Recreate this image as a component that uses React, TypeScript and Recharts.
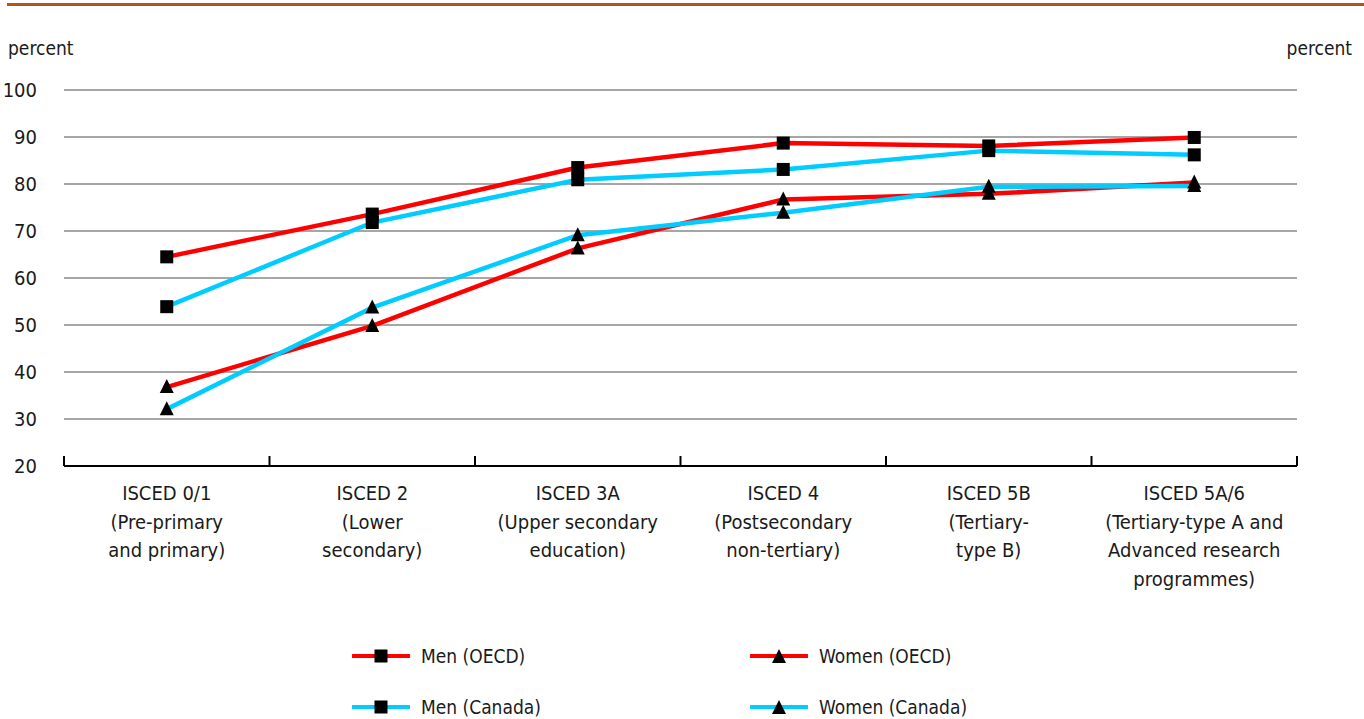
import React from "react";
import {
  LineChart,
  Line,
  XAxis,
  YAxis,
  CartesianGrid,
} from "recharts";

const categories = ["ISCED 0/1", "ISCED 2", "ISCED 3A", "ISCED 4", "ISCED 5B", "ISCED 5A/6"];
const categoryLabels = [
  ["ISCED 0/1", "(Pre-primary", "and primary)"],
  ["ISCED 2", "(Lower", "secondary)"],
  ["ISCED 3A", "(Upper secondary", "education)"],
  ["ISCED 4", "(Postsecondary", "non-tertiary)"],
  ["ISCED 5B", "(Tertiary-", "type B)"],
  ["ISCED 5A/6", "(Tertiary-type A and", "Advanced research", "programmes)"],
];
const menOecd = [64.5, 73.6, 83.5, 88.7, 88.1, 89.9];
const womenOecd = [36.8, 49.8, 66.3, 76.7, 77.9, 80.3];
const menCanada = [53.9, 71.8, 80.9, 83.1, 87.1, 86.2];
const womenCanada = [32.1, 53.7, 69.1, 73.9, 79.4, 79.6];
const yTicks = [20, 30, 40, 50, 60, 70, 80, 90, 100];

const series = [
  { key: "menOecd", name: "Men (OECD)", color: "#FF0000", marker: "square" },
  { key: "womenOecd", name: "Women (OECD)", color: "#FF0000", marker: "triangle" },
  { key: "menCanada", name: "Men (Canada)", color: "#00CCFF", marker: "square" },
  { key: "womenCanada", name: "Women (Canada)", color: "#00CCFF", marker: "triangle" },
];

const data = categories.map((name, i) => ({
  name,
  menOecd: menOecd[i],
  womenOecd: womenOecd[i],
  menCanada: menCanada[i],
  womenCanada: womenCanada[i],
}));

const FONT = "'Liberation Sans Narrow', 'DejaVu Sans Condensed', 'Arial Narrow', sans-serif";
const TEXT = "#1a1a1a";

function Square(props: any) {
  const { cx, cy } = props;
  if (cx == null || cy == null) return null;
  return <rect x={cx - 6.5} y={cy - 6.5} width={13} height={13} fill="#000" />;
}

function Triangle(props: any) {
  const { cx, cy } = props;
  if (cx == null || cy == null) return null;
  return <path d={`M${cx},${cy - 8} L${cx + 7},${cy + 6} L${cx - 7},${cy + 6} Z`} fill="#000" />;
}

function CategoryTick(props: any) {
  const { x, y, payload, index, width, visibleTicksCount } = props;
  const half =
    payload && payload.offset ? payload.offset : width / (visibleTicksCount || 6) / 2;
  const lines = categoryLabels[index] || [String(payload.value)];
  return (
    <g>
      <line x1={x - half} x2={x - half} y1={y - 10} y2={y} stroke="#000" strokeWidth={2} />
      {index === visibleTicksCount - 1 && (
        <line x1={x + half} x2={x + half} y1={y - 10} y2={y} stroke="#000" strokeWidth={2} />
      )}
      <text x={x} y={y + 34} textAnchor="middle" fill={TEXT} fontSize={20} fontFamily={FONT}>
        {lines.map((l, i) => (
          <tspan key={i} x={x} dy={i === 0 ? 0 : 28.5}>
            {l}
          </tspan>
        ))}
      </text>
    </g>
  );
}

function RightTick(props: any) {
  const { x, y, payload } = props;
  return (
    <text x={x + 55} y={y} dy={7} textAnchor="end" fill={TEXT} fontSize={20} fontFamily={FONT}>
      {payload.value}
    </text>
  );
}

function LeftTick(props: any) {
  const { x, y, payload } = props;
  return (
    <text x={x - 25} y={y} dy={7} textAnchor="end" fill={TEXT} fontSize={20} fontFamily={FONT}>
      {payload.value}
    </text>
  );
}

function LegendIcon({ color, marker }: { color: string; marker: string }) {
  return (
    <svg width={58} height={20} style={{ display: "block" }}>
      <line x1={1} x2={57} y1={10} y2={10} stroke={color} strokeWidth={4} strokeLinecap="round" />
      {marker === "square" ? <Square cx={29} cy={10} /> : <Triangle cx={29} cy={11} />}
    </svg>
  );
}

function SeriesLegend() {
  return (
    <div style={{ position: "absolute", left: 0, top: 645, width: 1364, height: 74 }}>
      {series.map((s, i) => (
        <div
          key={s.key}
          style={{
            position: "absolute",
            left: 352 + (i % 2) * 398,
            top: Math.floor(i / 2) * 51,
            display: "flex",
            alignItems: "center",
            fontFamily: FONT,
            fontSize: 19,
            color: TEXT,
          }}
        >
          <LegendIcon color={s.color} marker={s.marker} />
          <span style={{ marginLeft: 11 }}>{s.name}</span>
        </div>
      ))}
    </div>
  );
}

export default function App() {
  return (
    <div style={{ position: "absolute", left: 0, top: 0, width: 1364, height: 719, background: "#fff" }}>
      <div style={{ position: "absolute", left: 7, top: 3, width: 1357, height: 3, background: "#B5531C" }} />
      <div style={{ position: "absolute", left: 8, top: 37, fontFamily: FONT, fontSize: 19, color: TEXT }}>
        percent
      </div>
      <div style={{ position: "absolute", right: 12, top: 37, fontFamily: FONT, fontSize: 19, color: TEXT }}>
        percent
      </div>
      <LineChart
        width={1364}
        height={719}
        data={data}
        margin={{ top: 90, right: 27, bottom: 103, left: 24 }}
      >
        <CartesianGrid yAxisId="left" vertical={false} stroke="#A6A6A6" strokeWidth={2} />
        <XAxis
          dataKey="name"
          scale="band"
          axisLine={{ stroke: "#000", strokeWidth: 2 }}
          tickLine={false}
          tickSize={0}
          tickMargin={0}
          tick={<CategoryTick />}
          interval={0}
          height={150}
        />
        <YAxis
          yAxisId="left"
          domain={[20, 100]}
          ticks={yTicks}
          axisLine={false}
          tickLine={false}
          tickSize={0}
          width={40}
          tick={<LeftTick />}
          interval={0}
        />
        <YAxis
          yAxisId="right"
          orientation="right"
          domain={[20, 100]}
          ticks={yTicks}
          axisLine={false}
          tickLine={false}
          tickSize={0}
          width={40}
          tick={<RightTick />}
          interval={0}
        />
        {series.map((s) => (
          <Line
            key={s.key}
            yAxisId="left"
            dataKey={s.key}
            name={s.name}
            stroke={s.color}
            strokeWidth={4.5}
            type="linear"
            dot={s.marker === "square" ? <Square /> : <Triangle />}
            activeDot={false}
            isAnimationActive={false}
          />
        ))}
      </LineChart>
      <SeriesLegend />
    </div>
  );
}
